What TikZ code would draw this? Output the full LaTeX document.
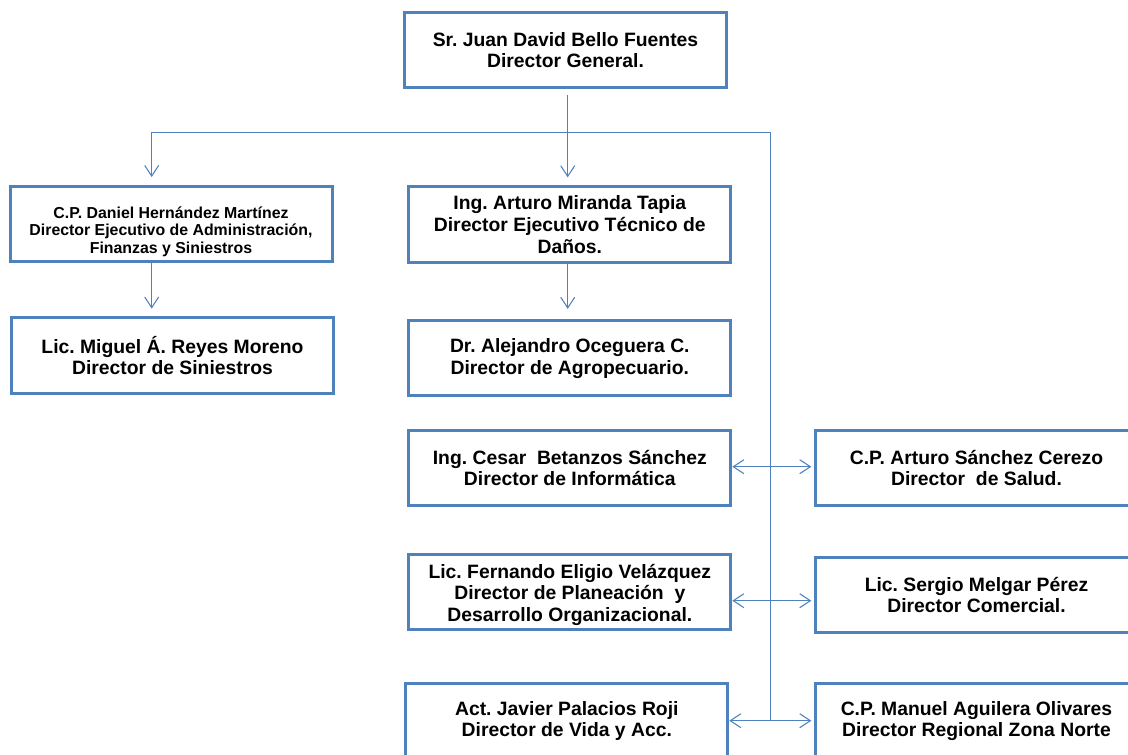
\documentclass[tikz,border=0pt]{standalone}
\usepackage{fontspec}
\setmainfont{Liberation Sans}
\usetikzlibrary{arrows.meta}
\definecolor{boxblue}{HTML}{4F81BD}
\frenchspacing

\begin{document}
\begin{tikzpicture}[x=0.75pt, y=-0.75pt, every node/.style={inner sep=0pt},
    >={Straight Barb[length=8pt,width=10.5pt]},
    box/.style={draw=boxblue, line width=2.25pt, fill=white, align=center,
      minimum width=241.5pt, minimum height=56.5pt,
      font=\bfseries\fontsize{14.5}{16.3}\selectfont},
    smallbox/.style={box, font=\bfseries\fontsize{11.9}{13.1}\selectfont},
    link/.style={draw=boxblue, line width=0.8pt}]
  \useasboundingbox (0,0) rectangle (1128,754);
  \clip (0,0) rectangle (1128,754);

  % Top box
  \node[box] (gen) at (565.5,50) {Sr. Juan David Bello Fuentes\\Director General.};

  % Second row
  \node[smallbox] (adm) at (171,224.2) {\rule{0pt}{19.5pt}C.P. Daniel Hernández Martínez\\Director Ejecutivo de Administración,\\Finanzas y Siniestros};
  \node[box] (tec) at (569.8,224.5) {Ing. Arturo Miranda Tapia\\Director Ejecutivo Técnico de\\Daños.};

  % Third row
  \node[box] (sin) at (172.5,355.5) {Lic. Miguel Á. Reyes Moreno\\Director de Siniestros};
  \node[box] (agr) at (569.8,358.3) {Dr. Alejandro Oceguera C.\\Director de Agropecuario.};

  % Along the trunk, left side
  \node[box] (inf) at (569.8,468) {Ing. Cesar~ Betanzos Sánchez\\Director de Informática};
  \node[box] (pla) at (569.8,592) {\rule{0pt}{15pt}Lic. Fernando Eligio Velázquez\\Director de Planeación~ y\\Desarrollo Organizacional.};
  \node[box] (vid) at (566.8,721) {Act. Javier Palacios Roji\\Director de Vida y Acc.};

  % Along the trunk, right side
  \node[box] (sal) at (976.5,468) {C.P. Arturo Sánchez Cerezo\\Director~ de Salud.};
  \node[box] (com) at (976.5,595) {Lic. Sergio Melgar Pérez\\Director Comercial.};
  \node[box] (nor) at (976.5,721) {C.P. Manuel Aguilera Olivares\\Director Regional Zona Norte};

  % Bar and trunk
  \coordinate (bl) at (151.7,132.3);
  \coordinate (bm) at (567.7,132.3);
  \coordinate (br) at (770.8,132.3);
  \coordinate (t1) at (770.8,466.7);
  \coordinate (t2) at (770.8,600.7);
  \coordinate (t3) at (770.8,720.7);
  \draw[link] (bl) -- (br) -- (t3);

  \draw[link,->,shorten <=4.2pt,shorten >=6pt] (gen.south -| bm) -- (bm |- tec.north);
  \draw[link,->,shorten >=6pt] (bl) -- (bl |- adm.north);
  \draw[link,->,shorten >=5.8pt] (adm.south -| bl) -- (bl |- sin.north);
  \draw[link,->,shorten >=7.7pt] (tec.south -| bm) -- (bm |- agr.north);

  % Side links
  \draw[link,<->,shorten >=2pt] (inf.east |- t1) -- (sal.west |- t1);
  \draw[link,<->,shorten >=2pt] (pla.east |- t2) -- (com.west |- t2);
  \draw[link,<->,shorten >=2pt] (vid.east |- t3) -- (nor.west |- t3);
\end{tikzpicture}
\end{document}
